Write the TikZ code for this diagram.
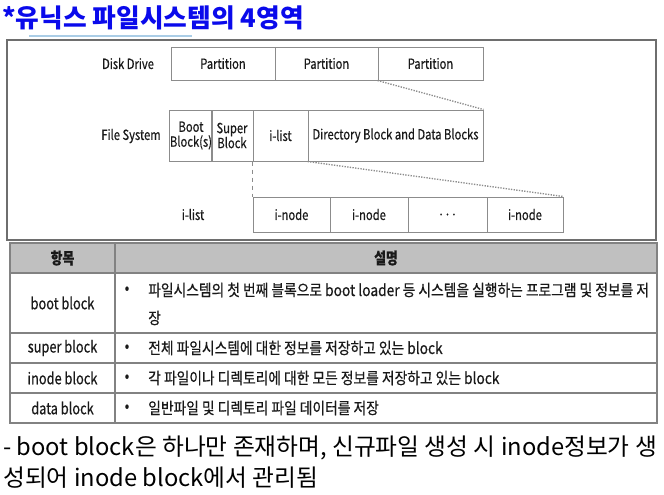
\documentclass[tikz,border=0pt]{standalone}
\usepackage{fontspec}
\setmainfont{Noto Sans CJK KR}
\newfontfamily\nar[FakeStretch=0.8,FakeBold=0.5]{Noto Sans CJK KR}
\newfontfamily\desc[FakeStretch=0.86,FakeBold=0.5]{Noto Sans CJK KR}
\newfontfamily\kor{Noto Sans CJK KR}
\definecolor{boxc}{RGB}{140,140,140}
\definecolor{framec}{RGB}{110,110,110}
\definecolor{tabc}{RGB}{130,130,130}
\definecolor{headc}{RGB}{192,192,192}
\definecolor{titc}{RGB}{10,10,235}
\definecolor{ulc}{RGB}{170,205,230}
\definecolor{txtc}{RGB}{25,25,25}
\begin{document}
\begin{tikzpicture}[x=0.75pt,y=-0.75pt,
  bx/.style 2 args={draw=boxc, line width=0.75pt, minimum width=#1*0.75pt, minimum height=#2*0.75pt,
    inner sep=0pt, align=center, text=txtc, font=\nar\fontsize{10.5}{11.2}\selectfont},
  lbl/.style={text=txtc, inner sep=0pt, font=\nar\fontsize{10.5}{11.2}\selectfont},
  conn/.style={draw=boxc, line width=1pt, densely dotted},
  tcell/.style={text=txtc, inner sep=0pt, font=\nar\fontsize{12}{13}\selectfont},
  dcell/.style={text=txtc, inner sep=0pt, anchor=west, font=\desc\fontsize{12}{13}\selectfont},
  hcell/.style={text=txtc, inner sep=0pt, font=\nar\bfseries\fontsize{12}{13}\selectfont},
  ttl/.style={text=titc, inner sep=0pt, anchor=west, font=\kor\bfseries\fontsize{19.3}{22}\selectfont},
  note/.style={text=black, inner sep=0pt, anchor=west, font=\kor\fontsize{17.8}{19}\selectfont}]
\useasboundingbox (0,0) rectangle (664,494);
\fill[white] (0,0) rectangle (664,494);

% title
\node[ttl] (title) at (2,18) {*유닉스 파일시스템의 4영역};
\draw[ulc, line width=1pt] (29,36) -- (192,36);

% frame
\draw[framec, line width=1.4pt] (7,40) rectangle (656,240);

% disk drive row
\node[lbl] (ldd) at (128,63.5) {Disk Drive};
\node[bx={104}{33}] (p1) at (223,63.5) {Partition};
\node[bx={103}{33}] (p2) at (326.5,63.5) {Partition};
\node[bx={105}{33}] (p3) at (430.5,63.5) {Partition};

% file system row
\node[lbl] (lfs) at (131,136) {File System};
\node[bx={40}{51}] (b1) at (191,135.5) {Boot\\Block(s)};
\node[bx={42}{51}] (b2) at (232,135.5) {Super\\Block};
\node[bx={55}{51}] (b3) at (280.5,135.5) {i-list};
\node[bx={175}{51}] (b4) at (395.5,135.5) {Directory Block and Data Blocks};

% i-list row
\node[lbl] (lil) at (193,214.5) {i-list};
\node[bx={77}{35}] (n1) at (291.5,214.5) {i-node};
\node[bx={78}{35}] (n2) at (369,214.5) {i-node};
\node[bx={79}{35}] (n3) at (447.5,214.5) {. . .};
\node[bx={76}{35}] (n4) at (525,214.5) {i-node};

% connectors
\draw[conn] (p3.south west) -- (b4.north east);
\draw[conn] (b4.south west) -- (n4.north east);
\draw[draw=boxc, line width=0.75pt, dashed] (b3.south west) -- (n1.north west);

% table
\fill[headc] (10,243) rectangle (657,273);
\draw[tabc, line width=1.3pt] (10,243) rectangle (657,423);
\foreach \yy in {273,333,363,393} \draw[tabc, line width=1.3pt] (10,\yy) -- (657,\yy);
\draw[tabc, line width=1.3pt] (115,243) -- (115,423);

\node[hcell] (h1) at (62.5,258) {항목};
\node[hcell] (h2) at (386,258) {설명};

\node[tcell] (r1) at (62.5,303) {boot block};
\node[tcell] (r2) at (62.5,348) {super block};
\node[tcell] (r3) at (62.5,378) {inode block};
\node[tcell] (r4) at (62.5,408) {data block};

\node[tcell] (d1b) at (127,290) {•};
\node[dcell] (d1) at (148,290) {파일시스템의 첫 번째 블록으로 boot loader 등 시스템을 실행하는 프로그램 및 정보를 저};
\node[dcell] (d1c) at (148,318) {장};
\node[tcell] (d2b) at (127,348) {•};
\node[dcell] (d2) at (148,348) {전체 파일시스템에 대한 정보를 저장하고 있는 block};
\node[tcell] (d3b) at (127,378) {•};
\node[dcell] (d3) at (148,378) {각 파일이나 디렉토리에 대한 모든 정보를 저장하고 있는 block};
\node[tcell] (d4b) at (127,408) {•};
\node[dcell] (d4) at (148,408) {일반파일 및 디렉토리 파일 데이터를 저장};

% note
\node[note] (m1) at (3,448) {- boot block은 하나만 존재하며, 신규파일 생성 시 inode정보가 생};
\node[note] (m2) at (3,478) {성되어 inode block에서 관리됨};
\end{tikzpicture}
\end{document}
